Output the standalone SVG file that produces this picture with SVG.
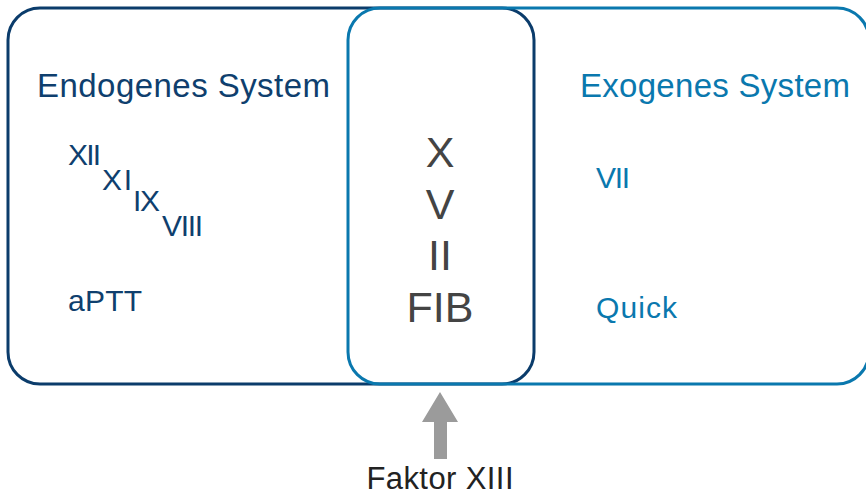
<svg xmlns="http://www.w3.org/2000/svg" width="866" height="495" viewBox="0 0 866 495">
<style>
text{font-family:"Liberation Sans",Arial,sans-serif}
.dk{fill:#0f3f6e}
.lt{fill:#0a78ae}
.mid{fill:#444;font-size:43px;text-anchor:middle}
.f{font-size:30px}
</style>
<rect width="866" height="495" fill="#fff"/>
<g id="endogen">
<rect x="8" y="8" width="526" height="376" rx="32" fill="none" stroke="#0b3c6b" stroke-width="3"/>
<text class="dk" x="37" y="97" font-size="33" textLength="293">Endogenes System</text>
<text class="dk f" x="68" y="165" textLength="33">XII</text>
<text class="dk f" x="102" y="190" textLength="30">XI</text>
<text class="dk f" x="133" y="211" textLength="27">IX</text>
<text class="dk f" x="162" y="236" textLength="41">VIII</text>
<text class="dk f" x="68" y="311" textLength="74">aPTT</text>
</g>
<g id="exogen">
<rect x="348" y="8" width="521" height="376" rx="32" fill="none" stroke="#0a78ae" stroke-width="3"/>
<text class="lt" x="580" y="97" font-size="33" textLength="270">Exogenes System</text>
<text class="lt f" x="596" y="188" textLength="34">VII</text>
<text class="lt f" x="596" y="318" textLength="81">Quick</text>
</g>
<g id="common">
<text class="mid" x="440" y="167">X</text>
<text class="mid" x="440" y="219">V</text>
<text class="mid" x="440" y="270">II</text>
<text class="mid" x="440" y="322">FIB</text>
</g>
<g id="connectors">
<path d="M434 459V422H422L440 392L458 422H447V459Z" fill="#9b9b9b"/>
</g>
<g id="faktor13">
<text x="440" y="489" font-size="31" fill="#222" text-anchor="middle" textLength="147">Faktor XIII</text>
</g>
</svg>
